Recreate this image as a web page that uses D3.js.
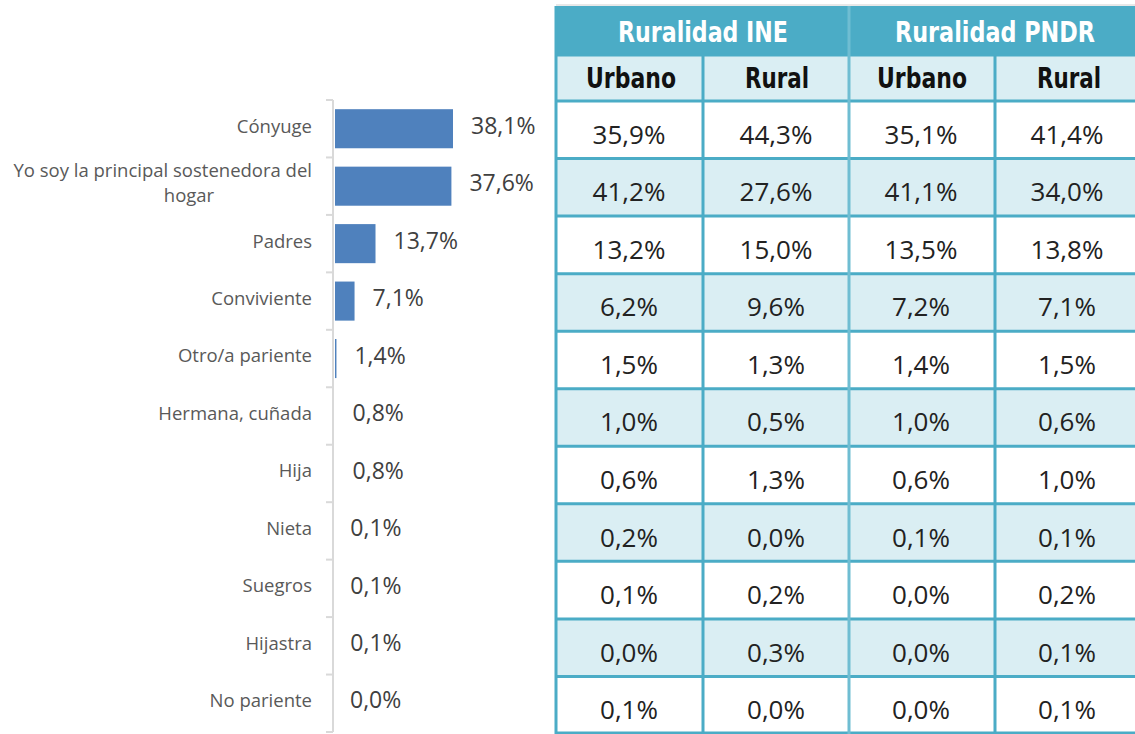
<!DOCTYPE html>
<html><head><meta charset="utf-8">
<script src="https://cdn.jsdelivr.net/npm/d3@7"></script>
<style>body{margin:0;background:#fff}svg{display:block}</style>
</head><body>
<svg id="c" width="1135" height="734"></svg>
<script>
const categories = ["Cónyuge","Yo soy la principal sostenedora del hogar","Padres","Conviviente","Otro/a pariente","Hermana, cuñada","Hija","Nieta","Suegros","Hijastra","No pariente"];
const totalValues = [38.1,37.6,13.7,7.1,1.4,0.8,0.8,0.1,0.1,0.1,0.0];
const groupHeaders = ["Ruralidad INE","Ruralidad PNDR"];
const subHeaders = ["Urbano","Rural","Urbano","Rural"];
const ineUrbano = [35.9,41.2,13.2,6.2,1.5,1.0,0.6,0.2,0.1,0.0,0.1];
const ineRural = [44.3,27.6,15.0,9.6,1.3,0.5,1.3,0.0,0.2,0.3,0.0];
const pndrUrbano = [35.1,41.1,13.5,7.2,1.4,1.0,0.6,0.1,0.0,0.0,0.0];
const pndrRural = [41.4,34.0,13.8,7.1,1.5,0.6,1.0,0.1,0.2,0.1,0.1];

const svg = d3.select("#c");
const fmt = v => v.toFixed(1).replace(".", ",") + "%";

// ---- Bar chart ----
const y = d3.scaleBand().domain(categories).range([100, 732]).paddingInner(0.32).paddingOuter(0.16);
const yb = d3.scaleBand().domain(categories).range([100, 732]);
const x = d3.scaleLinear().domain([0, 38.1]).range([332, 453]);
const barStart = 335;

svg.selectAll(".bar").data(categories).join("rect")
  .attr("x", barStart).attr("y", d => y(d))
  .attr("width", (d,i) => Math.max(0, x(totalValues[i]) - barStart))
  .attr("height", y.bandwidth())
  .attr("fill", "#4f81bd");

svg.append("line").attr("x1",333).attr("x2",333).attr("y1",100).attr("y2",732)
  .attr("stroke","#d9d9d9").attr("stroke-width",2);
const tickYs = categories.map(c => yb(c)).concat([732]);
svg.selectAll(".tk").data(tickYs).join("line")
  .attr("x1",326).attr("x2",333).attr("y1",d=>d).attr("y2",d=>d)
  .attr("stroke","#d9d9d9").attr("stroke-width",2);

svg.selectAll(".vl").data(categories).join("text")
  .attr("x", (d,i) => x(totalValues[i]) + 18)
  .attr("y", d => yb(d) + yb.bandwidth()/2 - 1)
  .attr("dominant-baseline","middle")
  .attr("font-family","Open Sans, sans-serif").attr("font-size",23).attr("fill","#404040")
  .text((d,i) => fmt(totalValues[i]));

const catG = svg.selectAll(".cl").data(categories).join("text")
  .attr("text-anchor","end")
  .attr("font-family","Open Sans, sans-serif").attr("font-size",18.5).attr("fill","#595959");
catG.each(function(d){
  const t = d3.select(this);
  const cy = yb(d) + yb.bandwidth()/2;
  if (d.startsWith("Yo soy")) {
    t.append("tspan").attr("x",312).attr("y",cy - 14).attr("dominant-baseline","middle").text("Yo soy la principal sostenedora del");
    t.append("tspan").attr("x",189).attr("y",cy + 11).attr("text-anchor","middle").attr("dominant-baseline","middle").text("hogar");
  } else {
    t.append("tspan").attr("x",312).attr("y",cy - 1).attr("dominant-baseline","middle").text(d);
  }
});

// ---- Table ----
const cols = [ineUrbano, ineRural, pndrUrbano, pndrRural];
const ty = d3.scaleBand().domain(categories).range([101, 734]);
const teal = "#4bacc6", light = "#daeef3";

svg.append("line").attr("x1",556).attr("x2",1135).attr("y1",5).attr("y2",5).attr("stroke","#e0e0e0").attr("stroke-width",1.5);
svg.append("rect").attr("x",556).attr("y",6).attr("width",579).attr("height",49).attr("fill",teal);
svg.append("rect").attr("x",556).attr("y",55).attr("width",579).attr("height",46).attr("fill",light);

svg.selectAll(".rowbg").data(categories).join("rect")
  .attr("x",556).attr("y",d=>ty(d)).attr("width",579).attr("height",ty.bandwidth())
  .attr("fill",(d,i)=> i%2 ? light : "#ffffff");

const hLines = [55, 101].concat(categories.slice(1).map(c=>ty(c))).concat([733]);
svg.selectAll(".hl").data(hLines).join("line")
  .attr("x1",556).attr("x2",1135).attr("y1",d=>d).attr("y2",d=>d)
  .attr("stroke",teal).attr("stroke-width",3);
const colEdges = [556, 703, 849, 995];
svg.selectAll(".vln").data(colEdges).join("line")
  .attr("x1",d=>d).attr("x2",d=>d).attr("y1",d=> (d===556||d===849)?6:55).attr("y2",734)
  .attr("stroke",(d)=> d===849 ? "#6fbdd2" : teal).attr("stroke-width",3);

const hdrFont = "DejaVu Sans, sans-serif";
const groupX = [703, 995], groupW = [170, 200];
svg.selectAll(".gh").data(groupHeaders).join("text")
  .attr("x",(d,i)=> groupX[i] - groupW[i]/2).attr("y",34)
  .attr("dominant-baseline","middle")
  .attr("textLength",(d,i)=>groupW[i]).attr("lengthAdjust","spacingAndGlyphs")
  .attr("font-family",hdrFont)
  .attr("font-weight","bold").attr("font-size",29).attr("fill","#ffffff")
  .text(d=>d);
const colCenters = [631, 777, 922, 1069];
const subW = [90, 64, 90, 64];
svg.selectAll(".sh").data(subHeaders).join("text")
  .attr("x",(d,i)=>colCenters[i] - subW[i]/2).attr("y",80)
  .attr("dominant-baseline","middle")
  .attr("textLength",(d,i)=>subW[i]).attr("lengthAdjust","spacingAndGlyphs")
  .attr("font-family",hdrFont)
  .attr("font-weight","bold").attr("font-size",29).attr("fill","#111111")
  .text(d=>d);

const cellCenters = [629, 776, 921, 1067];
cols.forEach((arr, ci) => {
  svg.selectAll(".cell"+ci).data(arr).join("text")
    .attr("x", cellCenters[ci]).attr("y",(d,i)=> ty(categories[i]) + ty.bandwidth()/2 + 7)
    .attr("text-anchor","middle").attr("dominant-baseline","middle")
    .attr("font-family","Open Sans, sans-serif").attr("font-size",26).attr("fill","#222222")
    .text(d=>fmt(d));
});
</script>
</body></html>
